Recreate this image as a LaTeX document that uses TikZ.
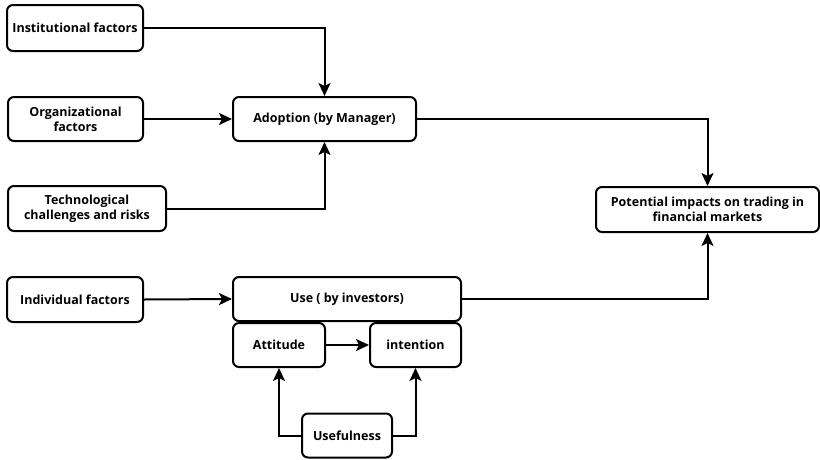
\documentclass[tikz,border=0pt]{standalone}
\usepackage{fontspec}
\setmainfont{Open Sans}
\usetikzlibrary{arrows.meta}
\begin{document}
\begin{tikzpicture}[x=1pt,y=-1pt,
  box/.style={draw=black, line width=2pt, rounded corners=6pt, align=center,
    font=\bfseries\fontsize{12.5}{15}\selectfont, inner sep=1pt},
  conn/.style={draw=black, line width=2pt, -{Stealth[length=13pt,width=12pt,inset=3pt]}}]
\useasboundingbox (0,0) rectangle (820,459);
\node[box, minimum width=136pt, minimum height=46pt] (inst) at (75,28) {Institutional factors};
\node[box, minimum width=135pt, minimum height=44pt] (org) at (75.5,119) {Organizational\\factors};
\node[box, minimum width=158pt, minimum height=45pt] (tech) at (87,208.5) {Technological\\challenges and risks};
\node[box, minimum width=183pt, minimum height=44pt] (adopt) at (324.5,119) {Adoption (by Manager)};
\node[box, minimum width=136pt, minimum height=45pt] (ind) at (75,299.5) {Individual factors};
\node[box, minimum width=228pt, minimum height=44pt] (use) at (347,299) {Use ( by investors)};
\node[box, minimum width=92pt, minimum height=44pt] (att) at (279,345) {Attitude};
\node[box, minimum width=91pt, minimum height=44pt] (intn) at (415.5,345) {intention};
\node[box, minimum width=90pt, minimum height=44pt] (usef) at (347,435.5) {Usefulness};
\node[box, minimum width=223pt, minimum height=45pt] (pot) at (707.5,209.5) {Potential impacts on trading in\\financial markets};
\draw[conn] (inst.east) -| (adopt.north);
\draw[conn] (org.east) -- (adopt.west);
\draw[conn] (tech.east) -| (adopt.south);
\draw[conn] (adopt.east) -| (pot.north);
\draw[conn] (ind.east) -- (use.west);
\draw[conn] (use.east) -| (pot.south);
\draw[conn] (att.east) -- (intn.west);
\draw[conn] (usef.west) -| (att.south);
\draw[conn] (usef.east) -| (intn.south);
\end{tikzpicture}
\end{document}
